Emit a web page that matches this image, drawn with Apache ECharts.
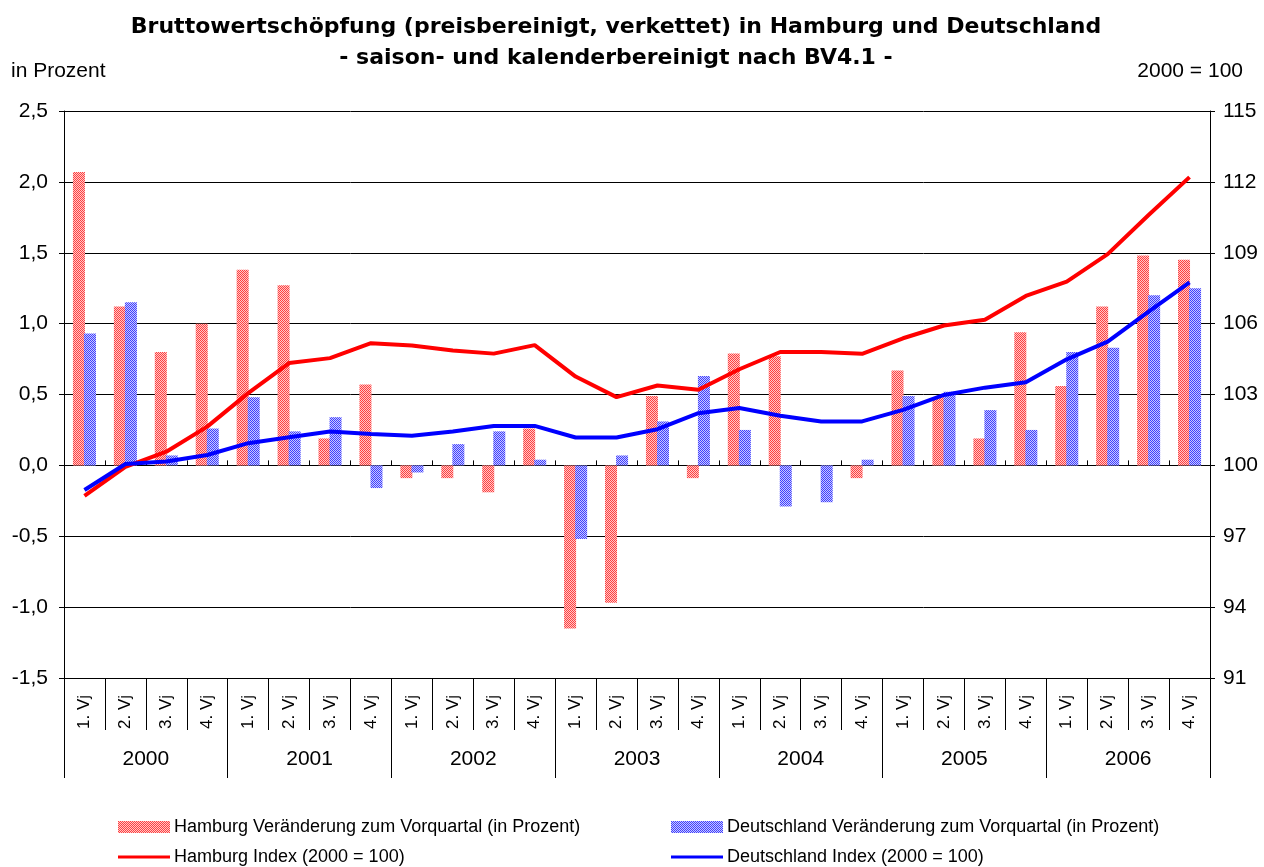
<!DOCTYPE html>
<html>
<head>
<meta charset="utf-8">
<script src="https://cdn.jsdelivr.net/npm/echarts@6/dist/echarts.min.js"></script>
<style>
html,body{margin:0;padding:0;background:#fff;}
#chart{width:1264px;height:867px;}
</style>
</head>
<body>
<div id="chart"></div>
<script>
// ---- data ----
var years = ['2000', '2001', '2002', '2003', '2004', '2005', '2006'];
var quarterLabels = ['1. Vj', '2. Vj', '3. Vj', '4. Vj'];
var hhPct = [2.07, 1.12, 0.80, 1.00, 1.38, 1.27, 0.19, 0.57, -0.09, -0.09, -0.19, 0.26, -1.15, -0.97, 0.49, -0.09, 0.79, 0.77, 0.00, -0.09, 0.67, 0.48, 0.19, 0.94, 0.56, 1.12, 1.48, 1.45];
var dePct = [0.93, 1.15, 0.07, 0.26, 0.48, 0.24, 0.34, -0.16, -0.05, 0.15, 0.24, 0.04, -0.52, 0.07, 0.31, 0.63, 0.25, -0.29, -0.26, 0.04, 0.49, 0.52, 0.39, 0.25, 0.80, 0.83, 1.20, 1.25];
var hhIdx = [98.71, 99.94, 100.58, 101.64, 103.06, 104.33, 104.54, 105.17, 105.07, 104.86, 104.73, 105.09, 103.76, 102.89, 103.38, 103.20, 104.07, 104.80, 104.80, 104.72, 105.38, 105.92, 106.16, 107.17, 107.78, 108.94, 110.60, 112.20];
var deIdx = [98.96, 100.06, 100.16, 100.44, 100.94, 101.19, 101.43, 101.33, 101.25, 101.43, 101.67, 101.67, 101.18, 101.18, 101.53, 102.21, 102.43, 102.10, 101.86, 101.86, 102.35, 102.98, 103.29, 103.52, 104.49, 105.24, 106.51, 107.75];
var seriesNames = ['Hamburg Veränderung zum Vorquartal (in Prozent)', 'Deutschland Veränderung zum Vorquartal (in Prozent)', 'Hamburg Index (2000 = 100)', 'Deutschland Index (2000 = 100)'];
var titleText = 'Bruttowertschöpfung (preisbereinigt, verkettet) in Hamburg und Deutschland\n- saison- und kalenderbereinigt nach BV4.1 -';
var leftAxisName = 'in Prozent';
var rightAxisName = '2000 = 100';

var categories = [];
years.forEach(function (y) { quarterLabels.forEach(function (q) { categories.push(q); }); });

function checkerCanvas(c1, c2, w, h) {
  var cv = document.createElement('canvas');
  cv.width = w; cv.height = h;
  var ctx = cv.getContext('2d');
  ctx.fillStyle = c2; ctx.fillRect(0, 0, w, h);
  ctx.fillStyle = c1;
  for (var y = 0; y < h; y++) {
    for (var x = (y % 2); x < w; x += 2) { ctx.fillRect(x, y, 1, 1); }
  }
  return cv;
}
function makePattern(c1, c2) {
  return { image: checkerCanvas(c1, c2, 2, 2), repeat: 'repeat' };
}
var RED_A = '#ff4040', RED_B = '#ffc8c8', BLUE_A = '#4040ff', BLUE_B = '#c8c8ff';
var redPat = makePattern(RED_A, RED_B);
var bluePat = makePattern(BLUE_A, BLUE_B);
var redIcon = 'image://' + checkerCanvas(RED_A, RED_B, 52, 12).toDataURL();
var blueIcon = 'image://' + checkerCanvas(BLUE_A, BLUE_B, 52, 12).toDataURL();

var FONT = 'Liberation Sans, Arial, sans-serif';
var chart = echarts.init(document.getElementById('chart'), null, { renderer: 'canvas' });

function legendItem(name, left, top, h, icon) {
  return { data: [{ name: name, icon: icon }],
    left: left, top: top, padding: 0,
    itemWidth: 52, itemHeight: h, itemGap: 0,
    textStyle: { fontFamily: FONT, fontSize: 18, color: '#000', padding: [0, 0, 0, -1] } };
}

var option = {
  animation: false,
  backgroundColor: '#ffffff',
  textStyle: { fontFamily: FONT, color: '#000' },
  title: [
    { text: titleText, left: 611, top: 7, textAlign: 'center',
      textStyle: { fontFamily: 'DejaVu Sans, sans-serif', fontSize: 22, fontWeight: 'bold', color: '#000', lineHeight: 31 } },
    { text: leftAxisName, left: 6, top: 56, textStyle: { fontFamily: FONT, fontSize: 21, fontWeight: 'normal', color: '#000' } },
    { text: rightAxisName, right: 16, top: 56, textStyle: { fontFamily: FONT, fontSize: 21, fontWeight: 'normal', color: '#000' } }
  ],
  legend: [
    legendItem(seriesNames[0], 118, 818, 12, redIcon),
    legendItem(seriesNames[2], 118, 848, 3, 'rect'),
    legendItem(seriesNames[1], 671, 818, 12, blueIcon),
    legendItem(seriesNames[3], 671, 848, 3, 'rect')
  ],
  grid: { left: 64, right: 54, top: 111, bottom: 189, containLabel: false },
  xAxis: [
    { type: 'category', data: categories, position: 'bottom', boundaryGap: true,
      axisLine: { show: true, onZero: false, lineStyle: { color: '#000', width: 1 } },
      axisTick: { show: true, interval: 0, length: 52, lineStyle: { color: '#000' } },
      axisLabel: { interval: 0, rotate: 90, margin: 17, fontSize: 17, color: '#000', fontFamily: FONT },
      splitLine: { show: false } },
    { type: 'category', data: years, position: 'bottom', boundaryGap: true,
      axisLine: { show: false, onZero: false },
      axisTick: { show: true, interval: 0, length: 100, lineStyle: { color: '#000' } },
      axisLabel: { interval: 0, margin: 71, fontSize: 21, color: '#000', fontFamily: FONT },
      splitLine: { show: false } },
    { type: 'category', data: categories, position: 'bottom', boundaryGap: true,
      axisLine: { show: true, onZero: true, lineStyle: { color: '#000', width: 1 } },
      axisTick: { show: true, interval: 0, length: 5, inside: true, lineStyle: { color: '#000' } },
      axisLabel: { show: false }, splitLine: { show: false } },
    { type: 'category', data: categories, position: 'bottom', boundaryGap: true,
      axisLine: { show: false, onZero: true },
      axisTick: { show: true, interval: 0, length: 5, inside: false, lineStyle: { color: '#000' } },
      axisLabel: { show: false }, splitLine: { show: false } }
  ],
  yAxis: [
    { type: 'value', min: -1.5, max: 2.5, interval: 0.5, position: 'left',
      axisLine: { show: true, lineStyle: { color: '#000' } },
      axisTick: { show: true, length: 5, lineStyle: { color: '#000' } },
      axisLabel: { margin: 16, fontSize: 21, color: '#000', fontFamily: FONT,
        formatter: function (v) { return v.toFixed(1).replace('.', ','); } },
      splitLine: { show: true, lineStyle: { color: '#000', width: 1 } } },
    { type: 'value', min: 91, max: 115, interval: 3, position: 'right',
      axisLine: { show: true, lineStyle: { color: '#000' } },
      axisTick: { show: true, length: 5, lineStyle: { color: '#000' } },
      axisLabel: { margin: 13, fontSize: 21, color: '#000', fontFamily: FONT },
      splitLine: { show: false } }
  ],
  series: [
    { name: seriesNames[0], type: 'bar', xAxisIndex: 0, yAxisIndex: 0, data: hhPct,
      barWidth: 12, barGap: '-8%', itemStyle: { color: redPat }, z: 2 },
    { name: seriesNames[1], type: 'bar', xAxisIndex: 0, yAxisIndex: 0, data: dePct,
      barWidth: 12, barGap: '-8%', itemStyle: { color: bluePat }, z: 2 },
    { name: seriesNames[2], type: 'line', xAxisIndex: 0, yAxisIndex: 1, data: hhIdx,
      symbol: 'none', showSymbol: false, lineStyle: { color: '#ff0000', width: 4 }, itemStyle: { color: '#ff0000' }, z: 5 },
    { name: seriesNames[3], type: 'line', xAxisIndex: 0, yAxisIndex: 1, data: deIdx,
      symbol: 'none', showSymbol: false, lineStyle: { color: '#0000ff', width: 4 }, itemStyle: { color: '#0000ff' }, z: 5 }
  ]
};
chart.setOption(option);
</script>
</body>
</html>
